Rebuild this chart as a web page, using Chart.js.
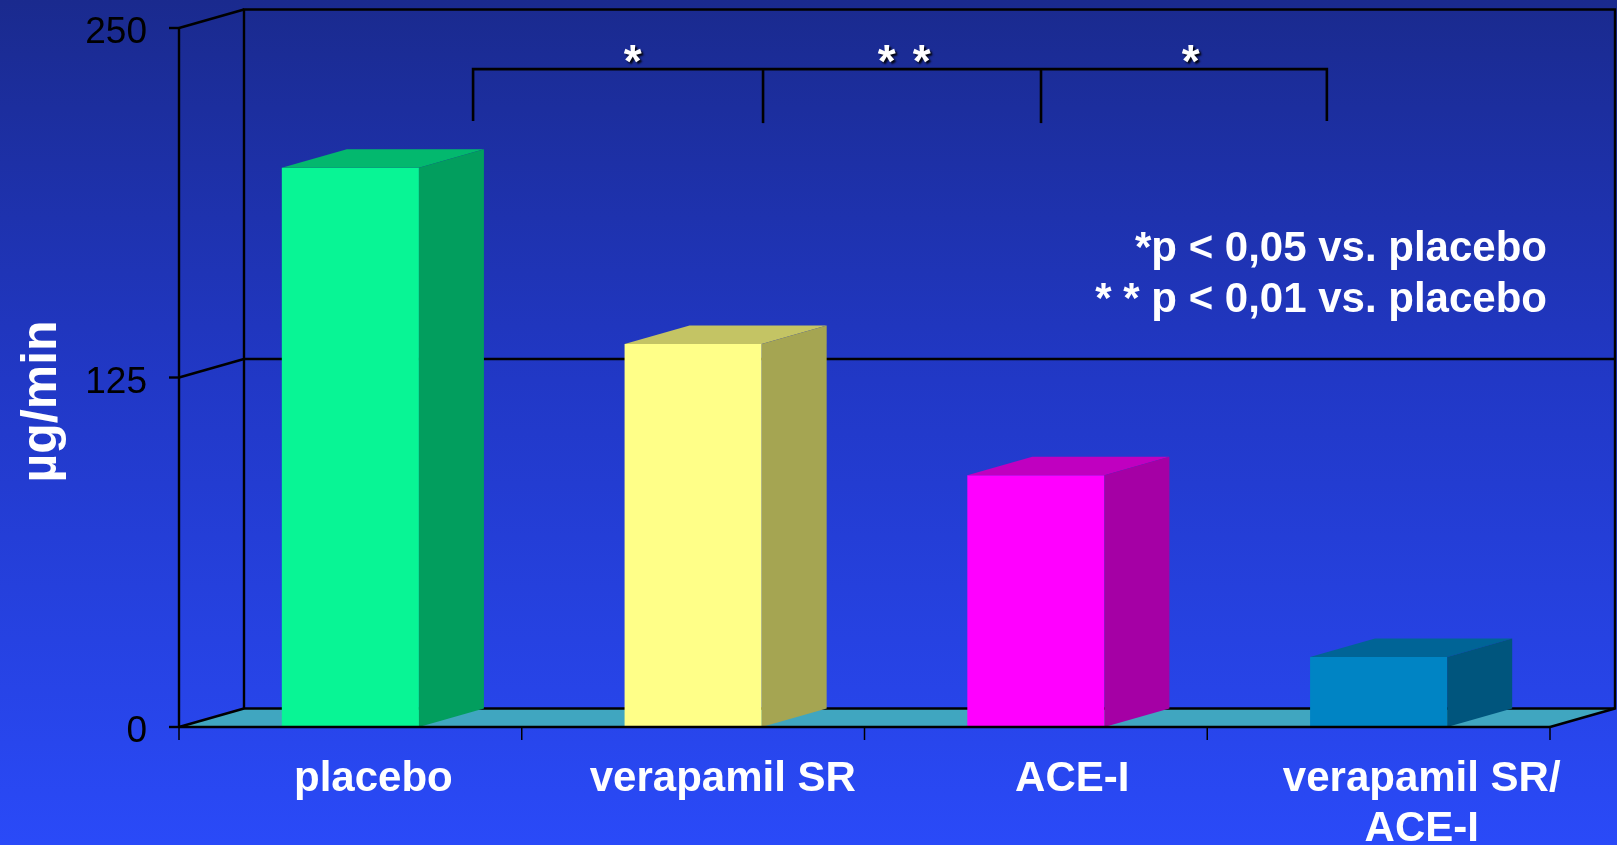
<!DOCTYPE html>
<html>
<head>
<meta charset="utf-8">
<title>µg/min</title>
<script src="https://cdn.jsdelivr.net/npm/chart.js@4"></script>
<style>
  html, body { margin: 0; padding: 0; background: #2238c8; overflow: hidden; }
  canvas { display: block; }
</style>
</head>
<body>
<canvas id="chart" width="1617" height="845"></canvas>
<script>
// Treatment groups and their values (µg/min)
const categories = ['placebo', 'verapamil SR', 'ACE-I', ['verapamil SR/', 'ACE-I']];
const values = [200, 137, 90, 25];
const yTicks = [0, 125, 250];
const yTitle = 'µg/min';

// Face colours of the 3D columns: front, top, side
const frontColors = ['#08F595', '#FFFF88', '#FF00FF', '#0084C4'];
const topColors = ['#03B86E', '#C4C464', '#C000C0', '#006496'];
const sideColors = ['#029E5E', '#A5A552', '#A500A5', '#00557D'];

// Significance bracket: tick positions (category units) and levels (µg/min)
const bracketTicks = [0.358, 1.204, 2.015, 2.849];
const bracketLevels = [235.3, 216.7];
const starPositions = [0.824, 1.565, 1.667, 2.452];
const starLevel = 240.7;

// Footnotes
const footnotes = ['*p < 0,05 vs. placebo', '* * p < 0,01 vs. placebo'];

// 3D depth offset and text styling
const DX = 65, DY = -18.5;
const FONT = '"Liberation Sans", Arial, sans-serif';

function line(ctx, pts) {
  ctx.beginPath();
  ctx.moveTo(pts[0][0], pts[0][1]);
  for (let i = 1; i < pts.length; i++) ctx.lineTo(pts[i][0], pts[i][1]);
  ctx.stroke();
}

const scene3d = {
  id: 'scene3d',
  beforeDraw(chart) {
    const ctx = chart.ctx;
    const g = ctx.createLinearGradient(0, 0, 0, chart.height);
    g.addColorStop(0, '#1A2A8E');
    g.addColorStop(0.45, '#2138C6');
    g.addColorStop(1, '#2A4AF8');
    ctx.save();
    ctx.fillStyle = g;
    ctx.fillRect(0, 0, chart.width, chart.height);
    ctx.restore();
  },
  beforeDatasetsDraw(chart) {
    const ctx = chart.ctx;
    const x = chart.scales.x, y = chart.scales.y;
    const L = x.left, R = x.right;
    const y0 = y.getPixelForValue(0);
    const yMax = y.getPixelForValue(250);
    ctx.save();
    // floor
    ctx.fillStyle = '#40A6C0';
    ctx.beginPath();
    ctx.moveTo(L, y0);
    ctx.lineTo(R, y0);
    ctx.lineTo(R + DX, y0 + DY);
    ctx.lineTo(L + DX, y0 + DY);
    ctx.closePath();
    ctx.fill();

    ctx.strokeStyle = '#000';
    ctx.lineWidth = 2.4;
    // back wall frame
    line(ctx, [[L + DX, y0 + DY], [L + DX, yMax + DY], [R + DX, yMax + DY], [R + DX, y0 + DY], [R, y0]]);
    line(ctx, [[L + DX, y0 + DY], [R + DX, y0 + DY]]);
    // side wall: front axis line
    line(ctx, [[L, yMax], [L, y0]]);
    // gridlines and side wall diagonals
    yTicks.forEach(v => {
      const py = y.getPixelForValue(v);
      line(ctx, [[L, py], [L + DX, py + DY]]);
      if (v > 0 && v < 250) line(ctx, [[L + DX, py + DY], [R + DX, py + DY]]);
      line(ctx, [[L - 10, py], [L, py]]);
    });
    // tick labels
    ctx.fillStyle = '#000';
    ctx.font = '37px ' + FONT;
    ctx.textAlign = 'right';
    ctx.textBaseline = 'alphabetic';
    yTicks.forEach(v => {
      const py = y.getPixelForValue(v);
      ctx.fillText(String(v), L - 32, py + 15);
    });
    // axis title
    ctx.fillStyle = '#fff';
    ctx.font = 'bold 50px ' + FONT;
    ctx.save();
    ctx.translate(56, (y0 + yMax) / 2 + 24);
    ctx.rotate(-Math.PI / 2);
    ctx.textAlign = 'center';
    ctx.fillText(yTitle, 0, 0);
    ctx.restore();
    ctx.restore();
  },
  afterDatasetsDraw(chart) {
    const ctx = chart.ctx;
    const x = chart.scales.x, y = chart.scales.y;
    const L = x.left, R = x.right;
    const y0 = y.getPixelForValue(0);
    const meta = chart.getDatasetMeta(0);
    ctx.save();
    // top and side faces of the columns
    meta.data.forEach((bar, i) => {
      const p = bar.getProps(['x', 'y', 'base', 'width'], true);
      const xl = p.x - p.width / 2, xr = p.x + p.width / 2;
      ctx.fillStyle = topColors[i];
      ctx.beginPath();
      ctx.moveTo(xl, p.y);
      ctx.lineTo(xl + DX, p.y + DY);
      ctx.lineTo(xr + DX, p.y + DY);
      ctx.lineTo(xr, p.y);
      ctx.closePath();
      ctx.fill();
      ctx.fillStyle = sideColors[i];
      ctx.beginPath();
      ctx.moveTo(xr, p.y);
      ctx.lineTo(xr + DX, p.y + DY);
      ctx.lineTo(xr + DX, p.base + DY);
      ctx.lineTo(xr, p.base);
      ctx.closePath();
      ctx.fill();
    });

    // front edge of the floor and category ticks
    ctx.strokeStyle = '#000';
    ctx.lineWidth = 2.4;
    line(ctx, [[L, y0], [R, y0]]);
    for (let i = 0; i <= categories.length; i++) {
      const px = x.getPixelForValue(i - 0.5);
      ctx.lineWidth = 1.5;
      line(ctx, [[px, y0], [px, y0 + 13]]);
    }

    // category labels
    ctx.fillStyle = '#fff';
    ctx.font = 'bold 42px ' + FONT;
    ctx.textBaseline = 'alphabetic';
    ctx.textAlign = 'center';
    categories.forEach((lab, i) => {
      const cx = x.getPixelForValue(i) + 23 + 6.7 * i;
      const lines = Array.isArray(lab) ? lab : [lab];
      lines.forEach((t, k) => ctx.fillText(t, cx, 791 + k * 50));
    });

    // significance bracket
    ctx.lineWidth = 2.6;
    const by = y.getPixelForValue(bracketLevels[0]);
    const bb = y.getPixelForValue(bracketLevels[1]);
    const bx = bracketTicks.map(v => x.getPixelForValue(v));
    line(ctx, [[bx[0], bb], [bx[0], by], [bx[bx.length - 1], by], [bx[bx.length - 1], bb]]);
    bx.slice(1, -1).forEach(px => line(ctx, [[px, by], [px, bb + 2]]));

    // asterisks
    ctx.font = 'bold 46px ' + FONT;
    const m = ctx.measureText('*');
    const sy = y.getPixelForValue(starLevel) - (m.actualBoundingBoxDescent - m.actualBoundingBoxAscent) / 2;
    ctx.shadowColor = 'rgba(0,0,0,0.9)';
    ctx.shadowOffsetX = 2;
    ctx.shadowOffsetY = 2;
    ctx.shadowBlur = 2;
    starPositions.forEach(v => ctx.fillText('*', x.getPixelForValue(v), sy));
    ctx.shadowColor = 'transparent';

    // footnotes
    ctx.font = 'bold 42px ' + FONT;
    ctx.textAlign = 'right';
    footnotes.forEach((t, k) => ctx.fillText(t, 1547, 261 + k * 51));
    ctx.restore();
  }
};

new Chart(document.getElementById('chart'), {
  type: 'bar',
  data: {
    labels: categories,
    datasets: [{
      data: values,
      backgroundColor: frontColors,
      borderWidth: 0,
      barPercentage: 0.4,
      categoryPercentage: 1.0
    }]
  },
  options: {
    responsive: false,
    devicePixelRatio: 1,
    animation: false,
    layout: { padding: { left: 179, right: 67, top: 28, bottom: 118 } },
    plugins: { legend: { display: false }, tooltip: { enabled: false } },
    scales: {
      x: { display: false, offset: true },
      y: { display: false, min: 0, max: 250 }
    }
  },
  plugins: [scene3d]
});
</script>
</body>
</html>
